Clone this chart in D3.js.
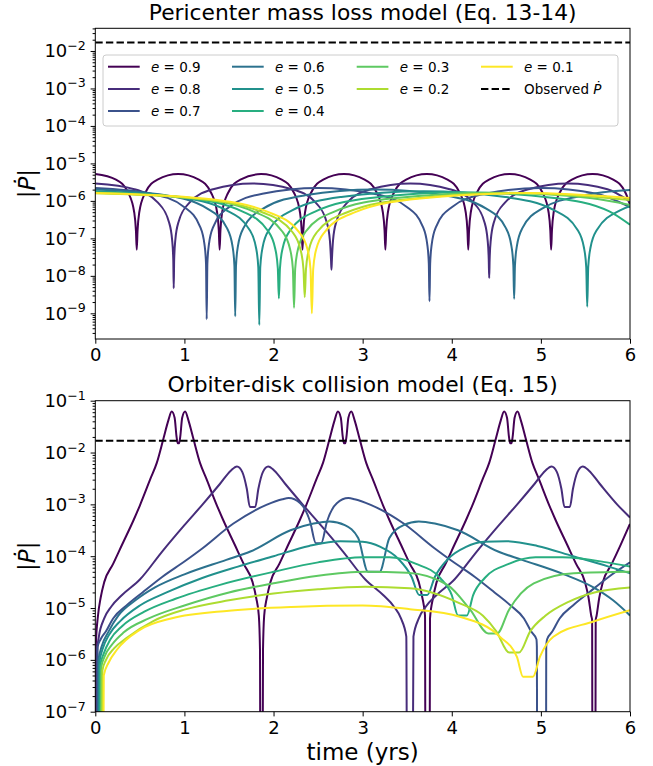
<!DOCTYPE html>
<html>
<head>
<meta charset="utf-8">
<script src="https://cdn.jsdelivr.net/npm/d3@7"></script>
<style>
body{margin:0;background:#fff;}
text{font-family:"DejaVu Sans",sans-serif;fill:#000;}
</style>
</head>
<body>
<svg id="fig" width="653" height="766"></svg>
<script>
// eccentricities, one curve each (viridis from 0.9 to 0.1)
var eccs = [0.9, 0.8, 0.7, 0.6, 0.5, 0.4, 0.3, 0.2, 0.1];
var xTicks = [0, 1, 2, 3, 4, 5, 6];
var topDecades = [-9, -8, -7, -6, -5, -4, -3, -2];
var botDecades = [-7, -6, -5, -4, -3, -2, -1];
var observedPdot = 1.68e-2;

// --- top panel: pericenter mass loss model, [time (yrs), |Pdot|]
var peri09 = [[0,5.2e-6],
 [0.232,3.7e-6],[0.372,1.6e-6],[0.437,4.9e-7],[0.456,1.6e-7],[0.465,5e-8],[0.474,1.6e-7],[0.493,4.9e-7],[0.558,1.6e-6],[0.698,3.7e-6],
 [0.93,5.2e-6],
 [1.162,3.7e-6],[1.302,1.6e-6],[1.367,4.9e-7],[1.386,1.6e-7],[1.395,5e-8],[1.404,1.6e-7],[1.423,4.9e-7],[1.488,1.6e-6],[1.628,3.7e-6],
 [1.86,5.2e-6],
 [2.092,3.7e-6],[2.232,1.6e-6],[2.297,4.9e-7],[2.316,1.6e-7],[2.325,5e-8],[2.334,1.6e-7],[2.353,4.9e-7],[2.418,1.6e-6],[2.558,3.7e-6],
 [2.79,5.2e-6],
 [3.022,3.7e-6],[3.162,1.6e-6],[3.227,4.9e-7],[3.246,1.6e-7],[3.255,5e-8],[3.264,1.6e-7],[3.283,4.9e-7],[3.348,1.6e-6],[3.488,3.7e-6],
 [3.72,5.2e-6],
 [3.952,3.7e-6],[4.092,1.6e-6],[4.157,4.9e-7],[4.176,1.6e-7],[4.185,5e-8],[4.194,1.6e-7],[4.213,4.9e-7],[4.278,1.6e-6],[4.418,3.7e-6],
 [4.65,5.2e-6],
 [4.882,3.7e-6],[5.022,1.6e-6],[5.087,4.9e-7],[5.106,1.6e-7],[5.115,5e-8],[5.124,1.6e-7],[5.143,4.9e-7],[5.208,1.6e-6],[5.348,3.7e-6],
 [5.58,5.2e-6],
 [5.812,3.7e-6],[5.952,1.6e-6],[6,7.9e-7]];
var peri08 = [[0,2.9e-6],[0.437,2.05e-6],[0.703,9.0e-7],[0.827,2.7e-7],[0.862,9.1e-8],[0.875,2.7e-8],[0.88,4.7e-9],[0.885,2.7e-8],[0.898,9.1e-8],[0.933,2.7e-7],[1.057,9.0e-7],[1.323,2.05e-6],
 [1.765,2.9e-6],
 [2.207,2.05e-6],[2.473,9.0e-7],[2.597,2.7e-7],[2.632,9.1e-8],[2.645,2.7e-8],[2.65,1.45e-8],[2.655,2.7e-8],[2.668,9.1e-8],[2.703,2.7e-7],[2.827,9.0e-7],[3.093,2.05e-6],
 [3.535,2.9e-6],
 [3.977,2.05e-6],[4.243,9.0e-7],[4.367,2.7e-7],[4.402,9.1e-8],[4.415,2.7e-8],[4.42,8.7e-9],[4.425,2.7e-8],[4.438,9.1e-8],[4.473,2.7e-7],[4.597,9.0e-7],[4.863,2.05e-6],
 [5.305,2.9e-6],[5.747,2.05e-6],[6,9.6e-7]];
var peri07 = [[0,2.2e-6],[0.625,1.56e-6],[1.0,6.8e-7],[1.175,2.07e-7],[1.225,6.9e-8],[1.2425,2.1e-8],[1.25,7e-10],[1.2575,2.1e-8],[1.275,6.9e-8],[1.325,2.07e-7],[1.5,6.8e-7],[1.875,1.56e-6],
 [2.5,2.2e-6],
 [3.125,1.56e-6],[3.5,6.8e-7],[3.675,2.07e-7],[3.725,6.9e-8],[3.7425,2.1e-8],[3.75,2.1e-9],[3.7575,2.1e-8],[3.775,6.9e-8],[3.825,2.07e-7],[4.0,6.8e-7],[4.375,1.56e-6],
 [5.0,2.2e-6],[5.625,1.56e-6],[6,6.8e-7]];
var peri06 = [[0,2.0e-6],[0.787,1.41e-6],[1.257,6.2e-7],[1.476,1.9e-7],[1.539,6.3e-8],[1.561,1.9e-8],[1.57,8.3e-10],[1.579,1.9e-8],[1.601,6.3e-8],[1.664,1.9e-7],[1.883,6.2e-7],[2.353,1.41e-6],
 [3.135,2.0e-6],
 [3.917,1.41e-6],[4.387,6.2e-7],[4.606,1.9e-7],[4.669,6.3e-8],[4.691,1.9e-8],[4.70,2.45e-9],[4.709,1.9e-8],[4.731,6.3e-8],[4.794,1.9e-7],[5.013,6.2e-7],[5.483,1.41e-6],[6,1.95e-6]];
var peri05 = [[0,1.8e-6],[0.92,1.27e-6],[1.472,5.6e-7],[1.73,1.7e-7],[1.803,5.7e-8],[1.829,1.7e-8],[1.84,4.9e-10],[1.851,1.7e-8],[1.877,5.7e-8],[1.95,1.7e-7],[2.208,5.6e-7],[2.76,1.27e-6],
 [3.68,1.8e-6],
 [4.6,1.27e-6],[5.152,5.6e-7],[5.41,1.7e-7],[5.483,5.7e-8],[5.509,1.7e-8],[5.52,1.5e-9],[5.531,1.7e-8],[5.557,5.7e-8],[5.63,1.7e-7],[5.888,5.6e-7],[6,7.2e-7]];
var peri04 = [[0,1.7e-6],[1.03,1.2e-6],[1.648,5.25e-7],[1.936,1.6e-7],[2.019,5.3e-8],[2.048,1.6e-8],[2.06,2.5e-9],[2.072,1.6e-8],[2.101,5.3e-8],[2.184,1.6e-7],[2.472,5.25e-7],[3.09,1.2e-6],
 [4.12,1.7e-6],[5.15,1.2e-6],[5.768,5.25e-7],[6,2.3e-7]];
var peri03 = [[0,1.65e-6],[1.115,1.17e-6],[1.784,5.1e-7],[2.096,1.55e-7],[2.185,5.2e-8],[2.217,1.55e-8],[2.23,1.4e-9],[2.243,1.55e-8],[2.275,5.2e-8],[2.364,1.55e-7],[2.676,5.1e-7],[3.345,1.17e-6],
 [4.46,1.65e-6],[5.575,1.17e-6],[6,7.7e-7]];
var peri02 = [[0,1.6e-6],[1.175,1.13e-6],[1.88,4.9e-7],[2.209,1.5e-7],[2.303,5.0e-8],[2.336,1.5e-8],[2.35,2.7e-9],[2.364,1.5e-8],[2.397,5.0e-8],[2.491,1.5e-7],[2.82,4.9e-7],[3.525,1.13e-6],
 [4.7,1.6e-6],[5.875,1.13e-6],[6,1.05e-6]];
var peri01 = [[0,1.62e-6],[1.215,1.15e-6],[1.944,5.0e-7],[2.284,1.5e-7],[2.381,5.1e-8],[2.415,1.5e-8],[2.43,1.0e-9],[2.445,1.5e-8],[2.479,5.1e-8],[2.576,1.5e-7],[2.916,5.0e-7],[3.645,1.15e-6],
 [4.86,1.62e-6],[6,1.2e-6]];

// --- bottom panel: orbiter-disk collision model, [time (yrs), |Pdot|]
var disk09 = [[0.004,1e-8],[0.007,2.1e-6],[0.03,7.1e-6],[0.06,1.58e-5],[0.1,3.16e-5],[0.2,7.1e-5],[0.3,1.66e-4],[0.43,5.0e-4],[0.5,9.5e-4],[0.62,3.16e-3],[0.69,6.3e-3],[0.765,1.86e-2],[0.82,4.17e-2],[0.857,6.17e-2],[0.89,4.68e-2],[0.912,2.0e-2],[0.925,1.51e-2],
 [0.94,1.51e-2],[0.953,2.0e-2],[0.975,4.68e-2],[1.008,6.17e-2],[1.045,4.17e-2],[1.1,1.86e-2],[1.175,6.3e-3],[1.245,3.16e-3],[1.365,9.5e-4],[1.435,5.0e-4],[1.565,1.66e-4],[1.665,7.1e-5],[1.765,3.16e-5],[1.805,1.58e-5],[1.835,7.1e-6],[1.848,1.58e-6],[1.852,1e-8],
 [1.878,1e-8],[1.882,1.58e-6],[1.895,7.1e-6],[1.925,1.58e-5],[1.965,3.16e-5],[2.065,7.1e-5],[2.165,1.66e-4],[2.295,5.0e-4],[2.365,9.5e-4],[2.485,3.16e-3],[2.555,6.3e-3],[2.63,1.86e-2],[2.685,4.17e-2],[2.722,6.17e-2],[2.755,4.68e-2],[2.777,2.0e-2],[2.79,1.51e-2],
 [2.805,1.51e-2],[2.818,2.0e-2],[2.84,4.68e-2],[2.873,6.17e-2],[2.91,4.17e-2],[2.965,1.86e-2],[3.04,6.3e-3],[3.11,3.16e-3],[3.23,9.5e-4],[3.3,5.0e-4],[3.43,1.66e-4],[3.53,7.1e-5],[3.63,3.16e-5],[3.67,1.58e-5],[3.7,7.1e-6],[3.704,1e-8],
 [3.752,1e-8],[3.756,6.3e-6],[3.79,1.58e-5],[3.83,3.16e-5],[3.93,7.1e-5],[4.03,1.66e-4],[4.16,5.0e-4],[4.23,9.5e-4],[4.35,3.16e-3],[4.42,6.3e-3],[4.495,1.86e-2],[4.55,4.17e-2],[4.587,6.17e-2],[4.62,4.68e-2],[4.642,2.0e-2],[4.655,1.51e-2],
 [4.67,1.51e-2],[4.683,2.0e-2],[4.705,4.68e-2],[4.738,6.17e-2],[4.775,4.17e-2],[4.83,1.86e-2],[4.905,6.3e-3],[4.975,3.16e-3],[5.095,9.5e-4],[5.165,5.0e-4],[5.295,1.66e-4],[5.395,7.1e-5],[5.495,3.16e-5],[5.535,1.58e-5],[5.565,7.1e-6],[5.575,5.9e-6],[5.578,1e-8],
 [5.612,1e-8],[5.615,5.9e-6],[5.625,7.1e-6],[5.655,1.58e-5],[5.695,3.16e-5],[5.795,7.1e-5],[5.895,1.66e-4],[6,4.2e-4]];
var disk08 = [[0.012,1e-8],[0.016,1.26e-6],[0.04,2.8e-6],[0.1,6.3e-6],[0.18,1.07e-5],[0.3,1.78e-5],[0.5,3.55e-5],[0.75,1.23e-4],[1.0,3.98e-4],[1.2,9.8e-4],[1.4,2.5e-3],[1.52,4.47e-3],[1.59,5.4e-3],[1.65,4.2e-3],[1.70,2.0e-3],[1.735,8.9e-4],
 [1.795,8.9e-4],[1.83,2.0e-3],[1.88,4.2e-3],[1.94,5.4e-3],[2.01,4.47e-3],[2.13,2.5e-3],[2.33,9.8e-4],[2.53,3.98e-4],[2.78,1.23e-4],[3.03,3.55e-5],[3.23,1.78e-5],[3.35,1.07e-5],[3.43,6.3e-6],[3.49,2.8e-6],[3.497,1e-8],
 [3.563,1e-8],[3.57,2.8e-6],[3.63,6.3e-6],[3.71,1.07e-5],[3.83,1.78e-5],[4.03,3.55e-5],[4.28,1.23e-4],[4.53,3.98e-4],[4.73,9.8e-4],[4.93,2.5e-3],[5.05,4.47e-3],[5.12,5.4e-3],[5.18,4.2e-3],[5.23,2.0e-3],[5.265,8.9e-4],
 [5.325,8.9e-4],[5.36,2.0e-3],[5.41,4.2e-3],[5.47,5.4e-3],[5.54,4.47e-3],[5.66,2.5e-3],[5.86,9.8e-4],[6,5.6e-4]];
var disk07 = [[0.022,1e-8],[0.026,1.78e-6],[0.06,2.5e-6],[0.12,3.55e-6],[0.2,6.3e-6],[0.35,1.12e-5],[0.53,2.0e-5],[0.75,3.98e-5],[1.0,7.9e-5],[1.2,1.41e-4],[1.55,4.27e-4],[1.92,9.8e-4],[2.1,1.26e-3],[2.17,1.32e-3],[2.3,1.05e-3],[2.41,4.68e-4],[2.475,1.78e-4],
 [2.535,1.78e-4],[2.6,4.68e-4],[2.71,1.05e-3],[2.84,1.32e-3],[2.91,1.26e-3],[3.09,9.8e-4],[3.46,4.27e-4],[3.81,1.41e-4],[4.01,7.9e-5],[4.26,3.98e-5],[4.48,2.0e-5],[4.66,1.12e-5],[4.81,6.3e-6],[4.89,3.55e-6],[4.95,2.5e-6],[4.955,1.78e-6],[4.958,1e-8],
 [5.058,1e-8],[5.06,1.78e-6],[5.07,2.5e-6],[5.13,3.55e-6],[5.21,6.3e-6],[5.36,1.12e-5],[5.54,2.0e-5],[5.76,3.98e-5],[6,7.6e-5]];
var disk06 = [[0.032,1e-8],[0.036,1e-6],[0.07,1.78e-6],[0.15,3.55e-6],[0.26,7.2e-6],[0.45,1.41e-5],[0.67,2.5e-5],[1.0,4.47e-5],[1.47,8.5e-5],[1.74,1.23e-4],[2.19,3.16e-4],[2.45,4.27e-4],[2.63,4.68e-4],[2.8,3.98e-4],[2.95,2.24e-4],[3.06,5.0e-5],
 [3.19,5.0e-5],[3.3,2.24e-4],[3.46,3.98e-4],[3.63,4.68e-4],[3.81,4.27e-4],[4.07,3.16e-4],[4.52,1.23e-4],[4.79,8.5e-5],[5.26,4.47e-5],[5.59,2.5e-5],[5.81,1.41e-5],[6,7.2e-6]];
var disk05 = [[0.042,1e-8],[0.046,8.9e-7],[0.08,1.58e-6],[0.16,3.16e-6],[0.28,5.6e-6],[0.5,1.12e-5],[0.8,2.0e-5],[1.2,3.8e-5],[1.6,6.3e-5],[2.0,1.0e-4],[2.4,1.58e-4],[2.75,1.95e-4],[3.0,1.9e-4],[3.2,1.51e-4],[3.4,8.9e-5],[3.55,3.98e-5],[3.635,1.78e-5],
 [3.725,1.78e-5],[3.81,3.98e-5],[3.96,8.9e-5],[4.16,1.51e-4],[4.36,1.9e-4],[4.61,1.95e-4],[4.96,1.58e-4],[5.36,1.0e-4],[5.76,6.3e-5],[6,4.7e-5]];
var disk04 = [[0.052,1e-8],[0.056,7.9e-7],[0.09,1.26e-6],[0.17,2.5e-6],[0.3,4.47e-6],[0.55,8.5e-6],[0.9,1.51e-5],[1.4,2.8e-5],[2.0,5.0e-5],[2.5,7.6e-5],[3.0,9.5e-5],[3.3,9.5e-5],[3.6,7.1e-5],[3.87,3.8e-5],[4.0,1.78e-5],[4.07,7.2e-6],
 [4.17,7.2e-6],[4.24,1.78e-5],[4.37,3.8e-5],[4.64,7.1e-5],[4.94,9.5e-5],[5.24,9.5e-5],[5.74,7.6e-5],[6,6.3e-5]];
var disk03 = [[0.062,1e-8],[0.066,7.1e-7],[0.1,1.12e-6],[0.19,2.0e-6],[0.32,3.4e-6],[0.6,6.3e-6],[1.0,1.12e-5],[1.5,2.0e-5],[2.0,3.0e-5],[2.5,4.2e-5],[3.03,5.0e-5],[3.5,4.8e-5],[3.95,2.8e-5],[4.21,9.1e-6],[4.41,3.24e-6],
 [4.51,3.24e-6],[4.64,9.1e-6],[4.92,3.0e-5],[5.37,4.7e-5],[6,5.0e-5]];
var disk02 = [[0.075,1e-8],[0.08,6.3e-7],[0.12,1.0e-6],[0.21,1.66e-6],[0.35,2.63e-6],[0.65,5.6e-6],[1.0,9.3e-6],[1.5,1.41e-5],[2.0,1.9e-5],[2.5,2.3e-5],[3.03,2.57e-5],[3.53,2.4e-5],[4.09,1.23e-5],[4.35,7.1e-6],[4.5,3.55e-6],[4.645,1.38e-6],
 [4.755,1.38e-6],[4.88,3.55e-6],[5.05,7.1e-6],[5.31,1.32e-5],[5.6,2.0e-5],[6,2.5e-5]];
var disk01 = [[0.09,1e-8],[0.095,5.0e-7],[0.15,8.9e-7],[0.24,1.55e-6],[0.5,3.8e-6],[0.85,6.3e-6],[1.5,8.9e-6],[2.2,1.05e-5],[3.0,1.12e-5],[3.53,9.5e-6],[4.09,6.8e-6],[4.54,2.8e-6],[4.73,1.15e-6],[4.8,4.7e-7],
 [4.91,4.7e-7],[4.99,1.15e-6],[5.14,2.8e-6],[5.59,5.5e-6],[6,9.1e-6]];

var periSeries = [peri09, peri08, peri07, peri06, peri05, peri04, peri03, peri02, peri01];
var diskSeries = [disk09, disk08, disk07, disk06, disk05, disk04, disk03, disk02, disk01];

var W = 653, H = 766;
var left = 95.3, right = 630;

var color = function(i){ return d3.interpolateViridis(i / (eccs.length - 1)); };

var panels = [
  {title: "Pericenter mass loss model (Eq. 13-14)", top: 28.3, bottom: 339, titleY: 19.5,
   domain: [Math.pow(10,-9.685), Math.pow(10,-1.395)], decades: topDecades, series: periSeries},
  {title: "Orbiter-disk collision model (Eq. 15)", top: 400.7, bottom: 711.7, titleY: 392,
   domain: [1e-7, 1e-1], decades: botDecades, series: diskSeries}
];

var svg = d3.select("#fig");
svg.append("rect").attr("width", W).attr("height", H).attr("fill", "#fff");

var drawPanel = function(p, idx){
  var x = d3.scaleLinear().domain([0, 6]).range([left, right]);
  var y = d3.scaleLog().domain(p.domain).range([p.bottom, p.top]);

  svg.append("clipPath").attr("id", "clip" + idx).append("rect")
     .attr("x", left).attr("y", p.top).attr("width", right - left).attr("height", p.bottom - p.top);
  var plot = svg.append("g").attr("clip-path", "url(#clip" + idx + ")");

  var line = d3.line()
     .x(function(d){ return x(d[0]); })
     .y(function(d){ return y(d[1]); })
     .curve(d3.curveMonotoneX);

  p.series.forEach(function(s, i){
    plot.append("path").attr("d", line(s))
        .attr("fill", "none").attr("stroke", color(i))
        .attr("stroke-width", 2).attr("stroke-linejoin", "round");
  });

  // observed Pdot
  plot.append("line")
      .attr("x1", left).attr("x2", right)
      .attr("y1", y(observedPdot)).attr("y2", y(observedPdot))
      .attr("stroke", "#000").attr("stroke-width", 2).attr("stroke-dasharray", "7.4,3.2");

  // x axis
  var xa = svg.append("g").attr("transform", "translate(0," + p.bottom + ")")
     .call(d3.axisBottom(x).tickValues(xTicks).tickSize(4.7).tickSizeOuter(0).tickPadding(5).tickFormat(d3.format("d")));
  xa.select(".domain").remove();
  xa.attr("font-size", 18).attr("font-family", "DejaVu Sans");

  // y axis, major + minor ticks
  var lo = Math.log10(p.domain[0]), hi = Math.log10(p.domain[1]);
  var minors = [];
  for (var d = Math.floor(lo); d <= Math.ceil(hi); d++) {
    for (var k = 2; k <= 9; k++) {
      var v = k * Math.pow(10, d);
      if (v >= p.domain[0] && v <= p.domain[1]) minors.push(v);
    }
  }
  var ya = svg.append("g").attr("transform", "translate(" + left + ",0)")
     .call(d3.axisLeft(y).tickValues(p.decades.map(function(e){ return Math.pow(10, e); })).tickSize(4.7).tickSizeOuter(0).tickFormat(""));
  ya.select(".domain").remove();
  var ym = svg.append("g").attr("transform", "translate(" + left + ",0)")
     .call(d3.axisLeft(y).tickValues(minors).tickSize(2.7).tickSizeOuter(0).tickFormat(""));
  ym.select(".domain").remove();

  p.decades.forEach(function(e){
    var t = svg.append("text")
       .attr("x", left - 9.4).attr("y", y(Math.pow(10, e)) + 6.5)
       .attr("text-anchor", "end").attr("font-size", "18px");
    t.append("tspan").text("10");
    t.append("tspan").attr("font-size", "12.6px").attr("dy", -7.5).text("\u2212" + Math.abs(e));
  });

  // frame
  svg.append("rect")
     .attr("x", left).attr("y", p.top).attr("width", right - left).attr("height", p.bottom - p.top)
     .attr("fill", "none").attr("stroke", "#000").attr("stroke-width", 1);

  svg.append("text").attr("x", (left + right) / 2).attr("y", p.titleY)
     .attr("text-anchor", "middle").attr("font-size", "21.8px").text(p.title);

  var yl = svg.append("text")
     .attr("transform", "translate(35," + ((p.top + p.bottom) / 2) + ") rotate(-90)")
     .attr("text-anchor", "middle").attr("font-size", "23px");
  yl.append("tspan").text("|");
  yl.append("tspan").attr("font-style", "italic").text("\u1E56");
  yl.append("tspan").text("|");
};

panels.forEach(drawPanel);

svg.append("text").attr("x", (left + right) / 2).attr("y", 760)
   .attr("text-anchor", "middle").attr("font-size", "23px").text("time (yrs)");

// legend (4 columns, filled column-wise 3,3,2,2)
var legCols = [108, 232, 356.7, 481];
var legRows = [66.7, 89, 111];
var slots = [[0,0],[0,1],[0,2],[1,0],[1,1],[1,2],[2,0],[2,1],[3,0],[3,1]];
var leg = svg.append("g");
leg.append("rect").attr("x", 103).attr("y", 55).attr("width", 515).attr("height", 71)
   .attr("rx", 3).attr("fill", "#fff").attr("fill-opacity", 0.8)
   .attr("stroke", "#cccccc").attr("stroke-width", 1);

eccs.forEach(function(e, i){
  var cx = legCols[slots[i][0]], cy = legRows[slots[i][1]];
  leg.append("line").attr("x1", cx).attr("x2", cx + 31.7).attr("y1", cy).attr("y2", cy)
     .attr("stroke", color(i)).attr("stroke-width", 2);
  var t = leg.append("text").attr("x", cx + 43).attr("y", cy + 5).attr("font-size", "13.5px");
  t.append("tspan").attr("font-style", "italic").text("e");
  t.append("tspan").text(" = " + e.toFixed(1));
});
(function(){
  var cx = legCols[slots[9][0]], cy = legRows[slots[9][1]];
  leg.append("line").attr("x1", cx).attr("x2", cx + 31.7).attr("y1", cy).attr("y2", cy)
     .attr("stroke", "#000").attr("stroke-width", 2).attr("stroke-dasharray", "7.4,3.2");
  var t = leg.append("text").attr("x", cx + 43).attr("y", cy + 5).attr("font-size", "13.5px");
  t.append("tspan").text("Observed ");
  t.append("tspan").attr("font-style", "italic").text("\u1E56");
})();
</script>
</body>
</html>
